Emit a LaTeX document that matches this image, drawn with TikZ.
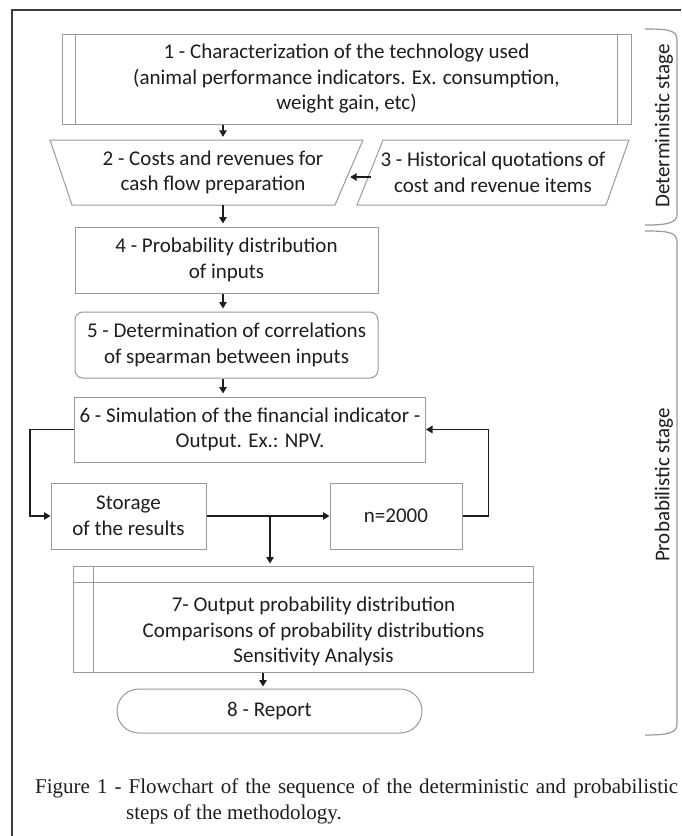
\documentclass[tikz,border=0pt]{standalone}
\usepackage{fontspec}
\setmainfont{Carlito}
\newfontfamily\capfont{Liberation Serif}
\usetikzlibrary{arrows.meta,calc}
\definecolor{boxgray}{HTML}{9A9A9A}
\definecolor{inkc}{HTML}{1E1E1E}
\definecolor{framec}{HTML}{3C3C3C}
\begin{document}
\begin{tikzpicture}[x=1pt,y=-1pt,
  txt/.style={inner sep=0pt, align=center, font=\fontsize{21}{25.5}\selectfont, text=inkc},
  captxt/.style={inner sep=0pt, font=\capfont\fontsize{21}{26}\selectfont, text=inkc},
  boxline/.style={draw=boxgray, line width=1pt},
  arr/.style={draw=inkc, line width=1.3pt, -{Triangle[length=6.5pt,width=7.5pt]}},
  brk/.style={draw=boxgray, line width=1.2pt},
]
\useasboundingbox (0,0) rectangle (681,836);
\fill[white] (0,0) rectangle (681,836);
\draw[framec, line width=1.5pt] (12,836) -- (12,10) -- (681,10);

% box 1
\node[txt, boxline, minimum width=569pt, minimum height=90pt] (n1) at (346.5,79) {1 - Characterization of the technology used\\(animal performance indicators. Ex. consumption,\\weight gain, etc)};
\draw[boxline] ([xshift=14pt]n1.north west) -- ([xshift=14pt]n1.south west);
\draw[boxline] ([xshift=-14pt]n1.north east) -- ([xshift=-14pt]n1.south east);

% box 2
\node[txt, minimum width=272pt, minimum height=65pt] (n2) at (213,172.5) {2 - Costs and revenues for\\cash flow preparation};
\draw[boxline] (50,140) -- (363,140) -- (335,205) -- (72,205) -- cycle;
% box 3
\node[txt, minimum width=244pt, minimum height=65pt] (n3) at (493,172.5) {3 - Historical quotations of\\cost and revenue items};
\draw[boxline] (383,140) -- (629,140) -- (606,205) -- (357,205) -- cycle;

% box 4
\node[txt, boxline, minimum width=303pt, minimum height=66pt] (n4) at (226.5,260) {4 - Probability distribution\\of inputs};
% box 5
\node[txt, boxline, rounded corners=8pt, minimum width=303pt, minimum height=66pt] (n5) at (226.5,345) {5 - Determination of correlations\\of spearman between inputs};
% box 6
\node[txt, boxline, minimum width=351pt, minimum height=65pt] (n6) at (250,429.5) {6 - Simulation of the financial indicator -\\Output. Ex.: NPV.};
% storage and counter
\node[txt, boxline, minimum width=155pt, minimum height=66pt] (st) at (128.5,516) {Storage\\of the results};
\node[txt, boxline, minimum width=132pt, minimum height=66pt] (nn) at (396,516) {n=2000};
% box 7
\node[txt, boxline, minimum width=460pt, minimum height=106pt] (n7) at (303,619) {};
\node[txt] (n7t) at (313.5,631.5) {7- Output probability distribution\\Comparisons of probability distributions\\Sensitivity Analysis};
\draw[boxline] ([yshift=-17pt]n7.north west) -- ([yshift=-17pt]n7.north east);
\draw[boxline] ([xshift=21pt]n7.north west) -- ([xshift=21pt]n7.south west);
% box 8
\node[txt, boxline, rounded corners=22pt, minimum width=305pt, minimum height=44pt] (n8) at (269.5,711) {8 - Report};

% connectors
\coordinate (colA) at (223,0);
\coordinate (colB) at (270,0);
\coordinate (colC) at (263,0);
\draw[arr, shorten >=3pt] (n1.south -| colA) -- (n2.north -| colA);
\draw[arr, shorten >=1pt] ([yshift=-4.5pt]n3.west) -- ([yshift=-4.5pt]n2.east);
\draw[arr, shorten >=3pt] (n2.south -| colA) -- (n4.north -| colA);
\draw[arr, shorten >=3pt] (n4.south -| colA) -- (n5.north -| colA);
\draw[arr, shorten >=3pt] (n5.south -| colA) -- (n6.north -| colA);
\draw[arr] (n6.west) -- ++(-44pt,0) |- (st.west);
\draw[arr] (st.east) -- (nn.west);
\draw[arr] (nn.east) -- ++(26pt,0) |- (n6.east);
\draw[arr, shorten >=2pt] (st.east -| colB) -- (n7.north -| colB);
\draw[arr, shorten >=2pt] (n7.south -| colC) -- (n8.north -| colC);

% stage brackets
\draw[brk] (645,29) .. controls (668,29) and (677,30) .. (677,40) -- (677,214) .. controls (677,223) and (668,225) .. (645,225);
\draw[brk] (645,231) .. controls (668,231) and (677,232) .. (677,242) -- (677,724) .. controls (677,733) and (668,735) .. (645,735);
\node[txt, rotate=90] (det) at (664,126) {Deterministic stage};
\node[txt, rotate=90] (prob) at (664,485) {Probabilistic stage};

% caption
\node[captxt, anchor=base west] (cap1) at (35,793) {\makebox[643pt][s]{Figure 1 - Flowchart of the sequence of the deterministic and probabilistic}};
\node[captxt, anchor=base west] (cap2) at (126,819) {steps of the methodology.};
\end{tikzpicture}
\end{document}
